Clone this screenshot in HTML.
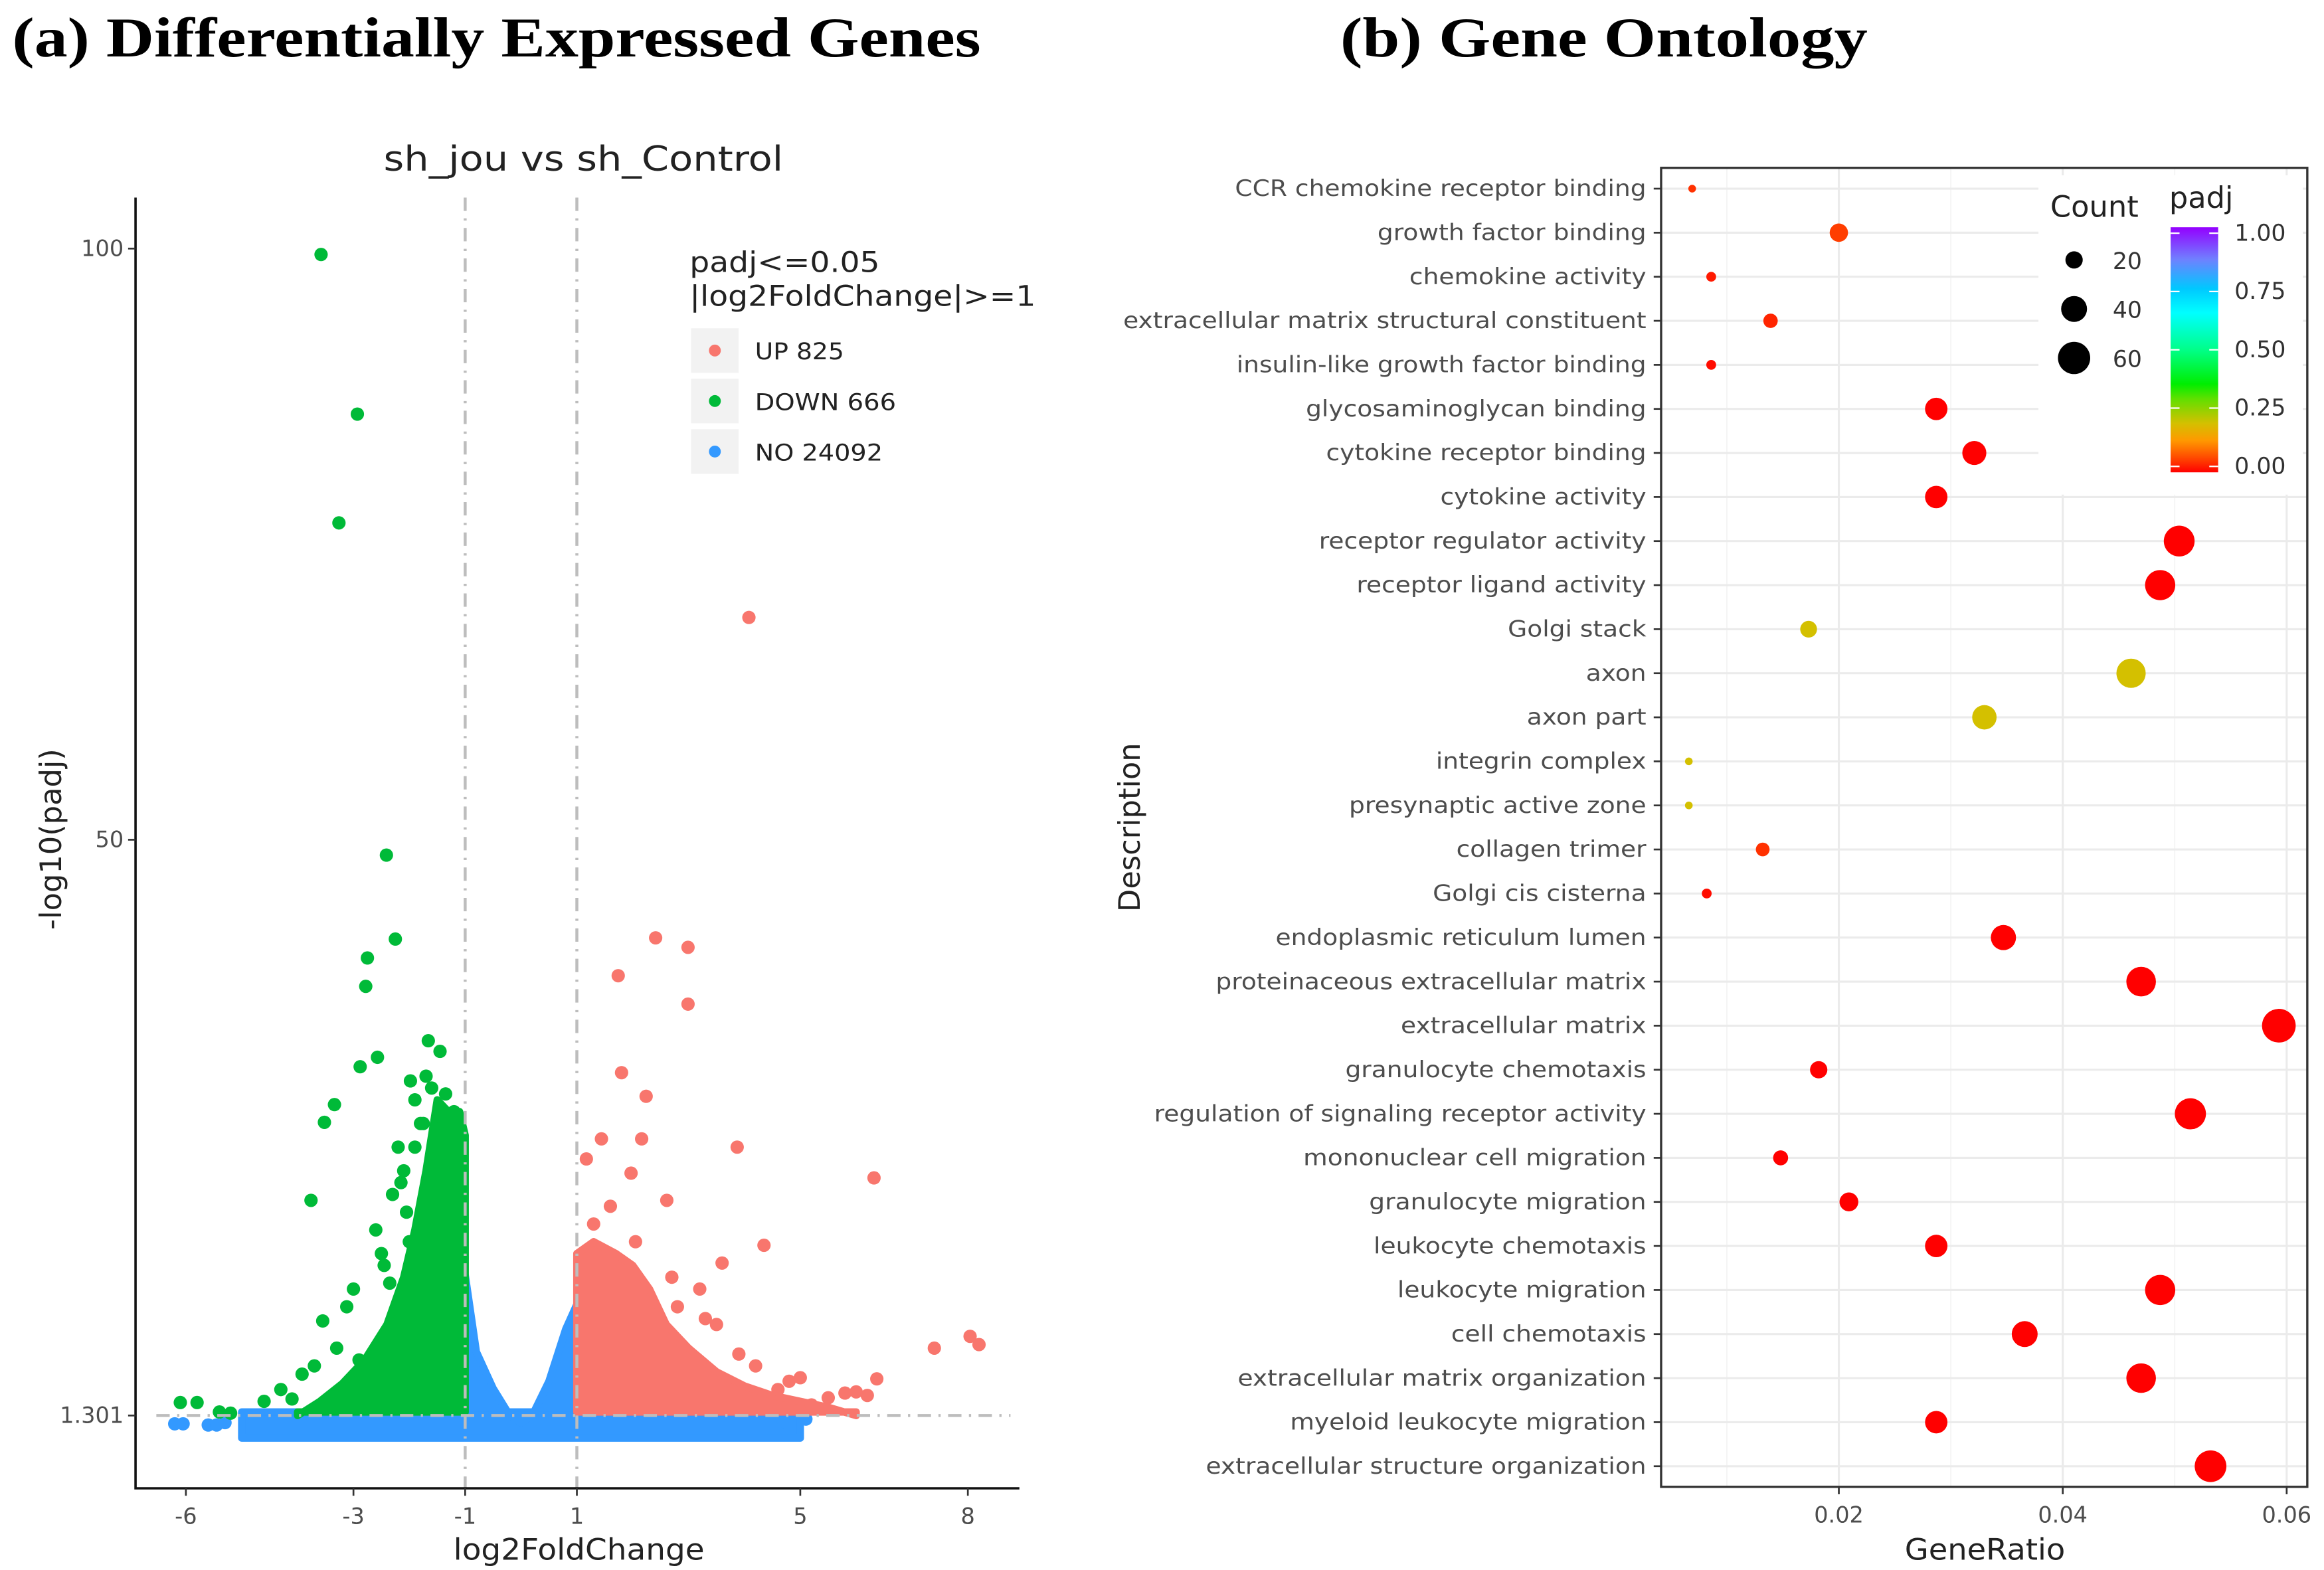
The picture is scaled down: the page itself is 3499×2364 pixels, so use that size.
<!DOCTYPE html>
<html><head><meta charset="utf-8"><style>
html,body{margin:0;padding:0;background:#fff}
svg{display:block}
text{font-family:"DejaVu Sans","Liberation Sans",sans-serif}
</style></head><body>
<svg id="fig" width="3499" height="2364" viewBox="0 0 1564 1057" xmlns="http://www.w3.org/2000/svg">
<rect width="1564" height="1057" fill="#fff"/>
<text x="8" y="38" font-weight="bold" font-size="38" textLength="652" lengthAdjust="spacingAndGlyphs" style="font-family:'Liberation Serif',serif">(a) Differentially Expressed Genes</text>
<text x="902" y="38" font-weight="bold" font-size="38" textLength="355" lengthAdjust="spacingAndGlyphs" style="font-family:'Liberation Serif',serif">(b) Gene Ontology</text>
<g id="volcano"></g>
<g id="dot"></g>
</svg>
<script>
// ---------- Volcano data ----------
const volXTicks = [-6,-3,-1,1,5,8];
const volYTicks = [1.301,50,100];
const volYTickLabels = ["1.301","50","100"];
const downX = [-3.58,-2.93,-3.26,-2.41,-2.25,-2.75,-2.78,-1.66,-1.45,-2.88,-2.57,-1.98,-3.34,-3.52,-3.76,-3.12,-3.55,-3.92,-6.1,-5.8,-5.2,-4.1,-2.1,-1.8,-2.3,-2.6,-3.0,-1.9,-2.45,-3.3,-2.0,-4.3,-4.6,-5.4,-2.2,-1.7,-2.9,-3.7,-1.2,-1.35,-1.6,-1.9,-2.15,-2.05,-1.75,-2.5,-2.35];
const downY = [99.5,86,76.8,48.7,41.6,40,37.6,33,32.1,30.8,31.6,29.6,27.6,26.1,19.5,10.5,9.3,4.8,2.4,2.4,1.5,2.7,22,26,20,17,12,28,14,7,16,3.5,2.5,1.6,24,30,6,5.5,27,28.5,29,24,21,18.5,26,15,12.5];
const upX = [4.08,2.41,2.99,1.74,2.99,1.8,2.24,1.44,2.16,3.87,6.32,1.17,1.97,2.61,4.35,3.6,7.4,8.04,8.2,6.37,6.0,5.5,4.6,3.2,2.8,3.9,4.8,1.3,1.6,2.05,5.2,6.2,3.5,2.7,3.3,4.2,5.0,5.8];
const upY = [68.8,41.7,40.9,38.5,36.1,30.3,28.3,24.7,24.7,24.0,21.4,23,21.8,19.5,15.7,14.2,7,8,7.3,4.4,3.3,2.8,3.5,12,10.5,6.5,4.2,17.5,19,16,2.2,3.0,9,13,9.5,5.5,4.5,3.2];
const downMassX = [-1.0,-1.1,-1.3,-1.5,-1.7,-1.9,-2.1,-2.4,-2.8,-3.2,-3.6,-4.0];
const downMassY = [25,27,27,28,22,17,13,9,6,4,2.5,1.3];
const upMassX = [1.0,1.3,1.7,2.0,2.3,2.6,3.0,3.5,4.0,4.5,5.0,5.5,6.0];
const upMassY = [15,16,15,14,12,9,7,5,3.8,3,2.5,2,1.3];
const noVX = [-1.0,-0.8,-0.5,-0.2,0,0.2,0.5,0.8,1.0];
const noVY = [13.2,6.7,3.6,1.3,0.7,1.3,4.2,8.6,10.7];
const noBandX = [-5.0,5.0];
const noBandTop = [1.6,1.6];
const noBandBottom = [-0.6,-0.6];
const noExtraX = [-6.2,-6.05,-5.6,-5.45,-5.3,4.7,5.1];
const noExtraY = [0.6,0.6,0.5,0.5,0.7,0.8,1.0];

// ---------- GO data ----------
const goTerms = ["CCR chemokine receptor binding","growth factor binding","chemokine activity","extracellular matrix structural constituent","insulin-like growth factor binding","glycosaminoglycan binding","cytokine receptor binding","cytokine activity","receptor regulator activity","receptor ligand activity","Golgi stack","axon","axon part","integrin complex","presynaptic active zone","collagen trimer","Golgi cis cisterna","endoplasmic reticulum lumen","proteinaceous extracellular matrix","extracellular matrix","granulocyte chemotaxis","regulation of signaling receptor activity","mononuclear cell migration","granulocyte migration","leukocyte chemotaxis","leukocyte migration","cell chemotaxis","extracellular matrix organization","myeloid leukocyte migration","extracellular structure organization"];
const goRatio = [0.0069,0.020,0.0086,0.0139,0.0086,0.0287,0.0321,0.0287,0.0504,0.0487,0.0173,0.0461,0.033,0.0066,0.0066,0.0132,0.0082,0.0347,0.047,0.0593,0.0182,0.0514,0.0148,0.0209,0.0287,0.0487,0.0366,0.047,0.0287,0.0532];
const goCount = [7,22,9,15,9,31,35,31,55,53,19,50,36,7,7,14,9,38,51,65,20,56,16,23,31,53,40,51,31,58];
const goPadj = [0.04,0.05,0.02,0.03,0.01,0,0,0,0,0,0.2,0.2,0.2,0.2,0.2,0.04,0.01,0,0,0,0,0,0,0,0,0,0,0,0,0];
const goXTicks = [0.02,0.04,0.06];
const goXTickLabels = ["0.02","0.04","0.06"];
const countLegend = [20,40,60];
const padjLegend = [0,0.25,0.5,0.75,1];
const padjLegendLabels = ["0.00","0.25","0.50","0.75","1.00"];

const NS="http://www.w3.org/2000/svg";
function mk(tag,attrs,parent,txt){const e=document.createElementNS(NS,tag);for(const k in attrs)e.setAttribute(k,attrs[k]);if(txt!==undefined)e.textContent=txt;parent.appendChild(e);return e;}

// ---------- Volcano ----------
(function(){
const g=document.getElementById('volcano');
const L=91,R=686,T=133,B=1002;
const xS=v=>350.5+v*37.6;
const yS=v=>953-(v-1.301)*7.96;
const grayT="#4d4d4d";
let t=mk('text',{x:258,y:115,'font-size':23,fill:'#222',textLength:269,lengthAdjust:'spacingAndGlyphs'},g,"sh_jou vs  sh_Control");


function poly(pts,color,name){const p=mk('polygon',{points:pts.map(q=>q.join(',')).join(' '),fill:color,stroke:color,'stroke-width':5,'stroke-linejoin':'round'},g);return p;}
let band=[];noBandX.forEach((x,i)=>band.push([xS(x),yS(noBandTop[i])]));
for(let i=noBandX.length-1;i>=0;i--)band.push([xS(noBandX[i]),yS(noBandBottom[i])]);
poly(band,'#3399ff','no-band');
let v=[[xS(noVX[0]),yS(1.301)]];noVX.forEach((x,i)=>v.push([xS(x),yS(noVY[i])]));v.push([xS(noVX[noVX.length-1]),yS(1.301)]);
poly(v,'#3399ff','no-v-mass');
noExtraX.forEach((x,i)=>{const c=mk('circle',{cx:xS(x),cy:yS(noExtraY[i]),r:4.5,fill:'#3399ff'},g);});
let d=[[xS(downMassX[0]),yS(1.6)]];downMassX.forEach((x,i)=>d.push([xS(x),yS(downMassY[i])]));d.push([xS(downMassX[downMassX.length-1]),yS(1.6)]);
poly(d,'#00ba38','down-mass');
let u=[[xS(upMassX[0]),yS(1.6)]];upMassX.forEach((x,i)=>u.push([xS(x),yS(upMassY[i])]));u.push([xS(upMassX[upMassX.length-1]),yS(1.6)]);
poly(u,'#f8766d','up-mass');
downX.forEach((x,i)=>{const c=mk('circle',{cx:xS(x),cy:yS(downY[i]),r:4.5,fill:'#00ba38'},g);});
upX.forEach((x,i)=>{const c=mk('circle',{cx:xS(x),cy:yS(upY[i]),r:4.5,fill:'#f8766d'},g);});
[-1,1].forEach(x=>{const l=mk('line',{x1:xS(x),x2:xS(x),y1:T,y2:B,stroke:'#bdbdbd','stroke-width':2,'stroke-dasharray':'9 5 1.5 5'},g);});
let hl=mk('line',{x1:105,x2:680,y1:yS(1.301),y2:yS(1.301),stroke:'#bdbdbd','stroke-width':2,'stroke-dasharray':'9 5 1.5 5'},g);


let ax=mk('path',{d:`M${L},${T} V${B} H${R}`,fill:'none',stroke:'#111','stroke-width':1.6},g);


volXTicks.forEach(x=>{mk('line',{x1:xS(x),x2:xS(x),y1:B,y2:B+5,stroke:'#333','stroke-width':1.2},g);const tt=mk('text',{x:xS(x),y:B+24,'font-size':15,'text-anchor':'middle',fill:grayT},g,String(x));});
volYTicks.forEach((y,i)=>{mk('line',{x1:L-5,x2:L,y1:yS(y),y2:yS(y),stroke:'#333','stroke-width':1.2},g);const tt=mk('text',{x:L-8,y:yS(y)+5,'font-size':15,'text-anchor':'end',fill:grayT},g,volYTickLabels[i]);});
let xt=mk('text',{x:305,y:1050,'font-size':20,fill:'#222',textLength:169,lengthAdjust:'spacingAndGlyphs'},g,"log2FoldChange");


let yt=mk('text',{x:0,y:0,'font-size':20,'text-anchor':'middle',fill:'#222',transform:'translate(41,565) rotate(-90)'},g,"-log10(padj)");


let lg=mk('g',{},g);


mk('text',{x:464,y:183,'font-size':19,fill:'#222',textLength:128,lengthAdjust:'spacingAndGlyphs'},lg,"padj<=0.05");
mk('text',{x:464,y:206,'font-size':19,fill:'#222',textLength:233,lengthAdjust:'spacingAndGlyphs'},lg,"|log2FoldChange|>=1");
const lgLabels=["UP 825","DOWN 666","NO 24092"], lgCols=['#f8766d','#00ba38','#3399ff'], lgW=[60,95,86];
lgLabels.forEach((s,i)=>{const y0=221+i*34;mk('rect',{x:465,y:y0,width:32,height:30,fill:'#f2f2f2'},lg);mk('circle',{cx:481,cy:y0+15,r:4,fill:lgCols[i]},lg);const e=mk('text',{x:508,y:y0+21,'font-size':15.5,fill:'#222',textLength:lgW[i],lengthAdjust:'spacingAndGlyphs'},lg,s);});
})();

// ---------- GO dot plot ----------
(function(){
const g=document.getElementById('dot');
const L=1118,R=1553,T=113,B=1001;
const xS=v=>1086.9+v*7537;
const yS=i=>127+i*29.66;
const rS=c=>Math.sqrt(Math.max(c*2.1-8,4));
const stops=[[0,'#ff0000'],[0.06,'#ff4a00'],[0.13,'#ff9900'],[0.2,'#d4c000'],[0.3,'#60e000'],[0.36,'#00ee00'],[0.5,'#00ff88'],[0.65,'#00ffff'],[0.75,'#00c8ff'],[0.87,'#7080ff'],[1,'#9400ff']];
function hex(h){return[1,3,5].map(k=>parseInt(h.substr(k,2),16));}
function col(p){for(let i=1;i<stops.length;i++){if(p<=stops[i][0]){const a=stops[i-1],b=stops[i];const f=(p-a[0])/(b[0]-a[0]);const c1=hex(a[1]),c2=hex(b[1]);return 'rgb('+c1.map((v,k)=>Math.round(v+(c2[k]-v)*f)).join(',')+')';}}return stops[stops.length-1][1];}
mk('rect',{x:L,y:T,width:R-L,height:B-T,fill:'#fff'},g);
[0.01,0.03,0.05].forEach(v=>mk('line',{x1:xS(v),x2:xS(v),y1:T,y2:B,stroke:'#f3f3f3','stroke-width':0.8},g));
goXTicks.forEach(v=>mk('line',{x1:xS(v),x2:xS(v),y1:T,y2:B,stroke:'#ebebeb','stroke-width':1.4},g));
goTerms.forEach((s,i)=>mk('line',{x1:L,x2:R,y1:yS(i),y2:yS(i),stroke:'#ebebeb','stroke-width':1.4},g));
goTerms.forEach((s,i)=>{const c=mk('circle',{cx:xS(goRatio[i]),cy:yS(i),r:rS(goCount[i]),fill:col(goPadj[i])},g);
mk('line',{x1:L-5,x2:L,y1:yS(i),y2:yS(i),stroke:'#333','stroke-width':1.2},g);
const t=mk('text',{x:0,y:0,'font-size':15,'text-anchor':'end',fill:'#4d4d4d',transform:`translate(${L-10},${yS(i)+5}) scale(1.12,1)`},g,s);});
let fr=mk('rect',{x:L,y:T,width:R-L,height:B-T,fill:'none',stroke:'#333','stroke-width':1.5},g);


goXTicks.forEach((v,i)=>{mk('line',{x1:xS(v),x2:xS(v),y1:B,y2:B+5,stroke:'#333','stroke-width':1.2},g);const t=mk('text',{x:xS(v),y:B+24,'font-size':15,'text-anchor':'middle',fill:'#4d4d4d'},g,goXTickLabels[i]);});
let xt=mk('text',{x:1282,y:1050,'font-size':20,fill:'#222',textLength:108,lengthAdjust:'spacingAndGlyphs'},g,"GeneRatio");


let yt=mk('text',{x:0,y:0,'font-size':20,'text-anchor':'middle',fill:'#222',transform:'translate(767,557) rotate(-90)'},g,"Description");


let lg=mk('g',{},g);


mk('rect',{x:1372,y:118,width:178,height:215,fill:'#fff'},lg);
mk('text',{x:1380,y:146,'font-size':20,fill:'#222'},lg,"Count");
countLegend.forEach((c,i)=>{const y0=175+i*33;mk('circle',{cx:1396,cy:y0,r:rS(c),fill:'#000'},lg);const e=mk('text',{x:1422,y:y0+6,'font-size':15.5,fill:'#333'},lg,String(c));});
mk('text',{x:1460,y:140,'font-size':20,fill:'#222'},lg,"padj");
const grad=mk('linearGradient',{id:'pg',x1:0,y1:1,x2:0,y2:0},mk('defs',{},lg));
stops.forEach(s=>mk('stop',{offset:s[0],'stop-color':s[1]},grad));
const cbT=153,cbB=318;
let cb=mk('rect',{x:1461,y:cbT,width:32,height:cbB-cbT,fill:'url(#pg)'},lg);


padjLegend.forEach((p,i)=>{const y=cbB-4-p*(cbB-cbT-8);mk('line',{x1:1461,x2:1467,y1:y,y2:y,stroke:'#fff','stroke-width':1},lg);mk('line',{x1:1487,x2:1493,y1:y,y2:y,stroke:'#fff','stroke-width':1},lg);const e=mk('text',{x:1504,y:y+5,'font-size':15.5,fill:'#333'},lg,padjLegendLabels[i]);});
})();
</script>
</body></html>
